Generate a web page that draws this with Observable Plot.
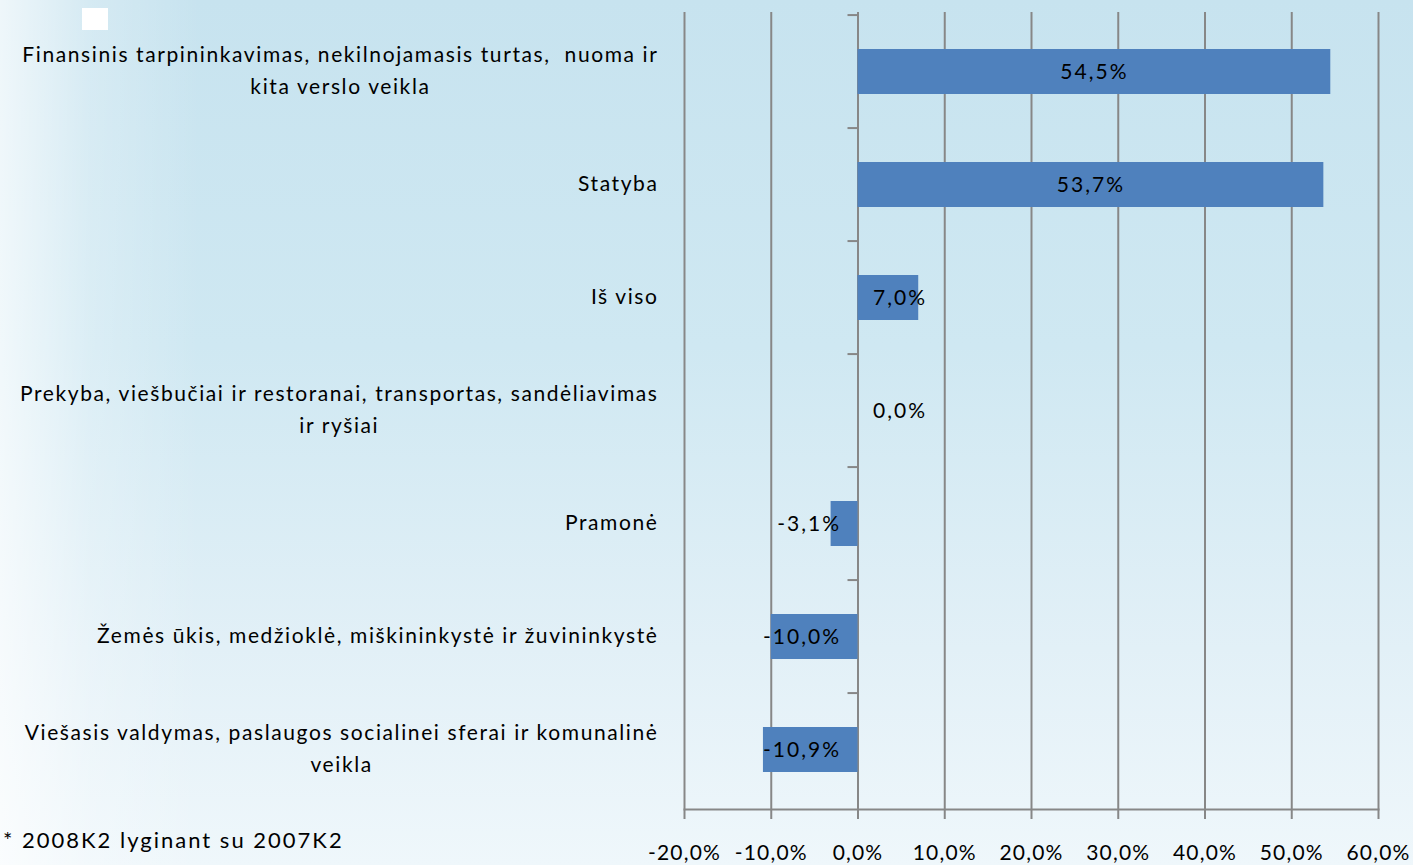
<!DOCTYPE html>
<html><head><meta charset="utf-8">
<script src="https://cdn.jsdelivr.net/npm/d3@7"></script>
<script src="https://cdn.jsdelivr.net/npm/@observablehq/plot@0.6"></script>
<style>
html,body{margin:0;padding:0;}
body{width:1413px;height:865px;overflow:hidden;position:relative;
background:
 linear-gradient(to right, rgba(255,255,255,0.7) 0px, rgba(255,255,255,0.25) 90px, rgba(255,255,255,0) 200px),
 linear-gradient(to bottom, #c7e3ef 0%, #cfe8f2 40%, #e2f0f7 75%, #eff7fb 100%);}
#chart{position:absolute;left:0;top:0;}
#caption{position:absolute;left:3px;top:826px;font:22px Lato, sans-serif;letter-spacing:2px;color:#000;white-space:pre;}
#sq{position:absolute;left:82px;top:8px;width:26px;height:22px;background:#fff;}
</style></head>
<body>
<div id="sq"></div>
<div id="chart"></div>
<div id="caption"></div>
<script>
const categories = [
  "Finansinis tarpininkavimas, nekilnojamasis turtas,  nuoma ir\nkita verslo veikla",
  "Statyba",
  "Iš viso",
  "Prekyba, viešbučiai ir restoranai, transportas, sandėliavimas\nir ryšiai",
  "Pramonė",
  "Žemės ūkis, medžioklė, miškininkystė ir žuvininkystė",
  "Viešasis valdymas, paslaugos socialinei sferai ir komunalinė\nveikla"
];
const values = [54.5, 53.7, 7.0, 0.0, -3.1, -10.0, -10.9];
const xTicks = [-20, -10, 0, 10, 20, 30, 40, 50, 60];
const captionText = "* 2008K2 lyginant su 2007K2";

document.getElementById("caption").textContent = captionText;

const data = categories.map((c, i) => ({c, v: values[i]}));
const fmt = v => v.toFixed(1).replace(".", ",") + "%";

const W = 1413, H = 865, mt = 12, mb = 56, ml = 684, mr = 35;
const step = (H - mt - mb) / categories.length;
const font = "Lato, sans-serif";
const gridColor = "#878787";

const big = d => Math.abs(d.v) >= 15;

const chart = Plot.plot({
  width: W, height: H,
  marginTop: mt, marginBottom: mb, marginLeft: ml, marginRight: mr,
  style: {background: "transparent", fontFamily: font, fontSize: "21px", color: "#000", overflow: "visible"},
  x: {domain: [-20, 60], ticks: xTicks, tickFormat: fmt, label: null},
  y: {domain: categories, paddingInner: 0.6, paddingOuter: 0.3, label: null},
  marks: [
    Plot.ruleX(xTicks, {stroke: gridColor, strokeWidth: 2}),
    Plot.ruleY(categories, {y: d => d, x1: 0, x2: 0, insetLeft: -10, dy: -step / 2, stroke: gridColor, strokeWidth: 2}),
    Plot.barX(data, {x: "v", y: "c", fill: "#4f81bd"}),
    Plot.frame({anchor: "bottom", stroke: gridColor, strokeWidth: 2}),
    Plot.axisX({ticks: xTicks, tickFormat: fmt, tickSize: 10, tickPadding: 26, stroke: gridColor, strokeWidth: 2, fontSize: 21, letterSpacing: "1.2px", label: null}),
    Plot.axisY({tickSize: 0, tickPadding: 26, fontSize: 21, lineHeight: 1.5, dy: -4, letterSpacing: "1.6px", label: null}),
    Plot.text(data.filter(big), {x: d => d.v / 2, y: "c", text: d => fmt(d.v), fontSize: 21, letterSpacing: "2px", fill: "#000"}),
    Plot.text(data.filter(d => !big(d) && d.v >= 0), {x: 0, y: "c", text: d => fmt(d.v), textAnchor: "start", dx: 15, fontSize: 21, letterSpacing: "2px", fill: "#000"}),
    Plot.text(data.filter(d => !big(d) && d.v < 0), {x: 0, y: "c", text: d => fmt(d.v), textAnchor: "end", dx: -17, fontSize: 21, letterSpacing: "2px", fill: "#000"})
  ]
});
document.getElementById("chart").appendChild(chart);

// letter spacing on all texts (some marks may not forward the option)
chart.querySelectorAll("g[aria-label='y-axis tick label'], g[aria-label='text']").forEach(g => g.setAttribute("letter-spacing", g.getAttribute("aria-label") === "text" ? "2px" : "1.6px"));
chart.querySelectorAll("g[aria-label='x-axis tick label']").forEach(g => g.setAttribute("letter-spacing", "1.2px"));

// center the wrapped lines of each category label within its block
chart.querySelectorAll("g[aria-label='y-axis tick label'] text").forEach(t => {
  const spans = t.querySelectorAll("tspan");
  if (spans.length > 1) {
    const maxW = Math.max(...Array.from(spans, s => s.getComputedTextLength()));
    t.setAttribute("text-anchor", "middle");
    spans.forEach(s => s.setAttribute("x", -maxW / 2));
  }
});
</script>
</body></html>
